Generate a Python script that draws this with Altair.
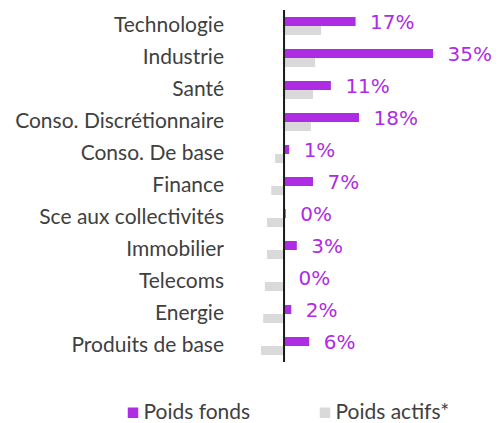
import altair as alt
import pandas as pd

categories = ["Technologie", "Industrie", "Santé", "Conso. Discrétionnaire", "Conso. De base",
              "Finance", "Sce aux collectivités", "Immobilier", "Telecoms", "Energie", "Produits de base"]
poids_fonds = [16.8, 35.0, 11.0, 17.6, 1.2, 6.8, 0.4, 3.0, 0.0, 1.7, 5.9]
poids_actifs = [8.7, 7.3, 6.8, 6.3, -2.1, -3.0, -4.0, -4.0, -4.5, -4.9, -5.4]
series = ["Poids fonds", "Poids actifs*"]
colors = ["#AE2CE3", "#D9D9D9"]

rows = []
for c, f, a in zip(categories, poids_fonds, poids_actifs):
    rows.append({"cat": c, "serie": series[0], "v": f})
    rows.append({"cat": c, "serie": series[1], "v": a})
df = pd.DataFrame(rows)

y = alt.Y("cat:N", sort=categories, title=None,
          scale=alt.Scale(paddingInner=0.4375, paddingOuter=0.21875),
          axis=alt.Axis(domain=False, ticks=False, labelPadding=35, labelFont="Lato",
                        labelFontSize=21, labelColor="#404040", labelLimit=400))
x = alt.X("v:Q", scale=alt.Scale(domain=[-6, 44], nice=False, zero=False), axis=None)
yoff = alt.YOffset("serie:N", sort=series,
                   scale=alt.Scale(domain=series, paddingInner=0, paddingOuter=0))

bars = alt.Chart(df).mark_bar().encode(
    y=y, x=x, yOffset=yoff,
    color=alt.Color("serie:N", scale=alt.Scale(domain=series, range=colors),
                    legend=alt.Legend(title=None, orient="none", legendX=-136, legendY=392,
                                      direction="horizontal", symbolType="square",
                                      symbolSize=110, symbolStrokeWidth=0,
                                      labelFont="Lato", labelFontSize=21, labelColor="#404040",
                                      labelOffset=0, columnPadding=64))
)

text = alt.Chart(df).transform_filter(alt.datum.serie == series[0]).transform_calculate(
    lbl="format(datum.v, '.0f') + '%'"
).mark_text(align="left", baseline="middle", dx=14.5, dy=1.5, font="DejaVu Sans", fontSize=20,
            color=colors[0]).encode(y=y, x=x, yOffset=yoff, text="lbl:N")

rule = alt.Chart(pd.DataFrame({"v": [0]})).mark_rule(color="#1a1a1a", strokeWidth=2).encode(x=x)

chart = alt.layer(bars, rule, text).properties(
    width=212.9, height=352,
    autosize=alt.AutoSizeParams(type="none"),
    padding={"left": 250.5, "top": 2, "right": 20.5, "bottom": 66},
).configure_view(stroke=None)

chart.save("out.html", embed_options={"renderer": "svg", "actions": False})
